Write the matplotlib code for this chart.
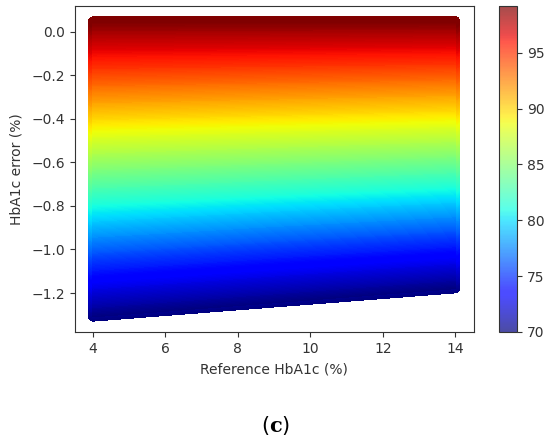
import numpy as np
import matplotlib
matplotlib.use("Agg")
import matplotlib.pyplot as plt

# reference HbA1c (%) columns and SpO2-like colour levels
ref_hba1c = [4, 9, 14]
levels = [70, 75, 80, 85, 90, 95, 99.2]

# HbA1c error (%), one row per colour level
err_at_4 = [-1.31, -1.06, -0.845, -0.62, -0.395, -0.165, 0.05]
err_at_9 = [-1.245, -1.005, -0.80, -0.59, -0.375, -0.155, 0.05]
err_at_14 = [-1.18, -0.955, -0.76, -0.56, -0.355, -0.145, 0.05]

ink = "#333333"
plt.rcParams["font.family"] = "DejaVu Sans"
plt.rcParams["font.size"] = 10
plt.rcParams["mathtext.fontset"] = "dejavuserif"
plt.rcParams["text.color"] = ink
plt.rcParams["axes.labelcolor"] = ink
plt.rcParams["xtick.color"] = ink
plt.rcParams["ytick.color"] = ink
plt.rcParams["axes.edgecolor"] = ink

X = np.array([ref_hba1c] * len(levels), dtype=float)
Y = np.column_stack([err_at_4, err_at_9, err_at_14])
C = np.array([levels] * len(ref_hba1c), dtype=float).T

fig = plt.figure(figsize=(5.5, 4.45), dpi=100)
ax = fig.add_axes([0.136, 0.254, 0.725, 0.733])
cax = fig.add_axes([0.907, 0.254, 0.033, 0.733])

lv = np.linspace(70, 99.2, 240)
# thick-edged copy underneath gives the rounded marker rim
rim = ax.contourf(X, Y, C, levels=lv, cmap="jet", zorder=1)
rim.set_edgecolor("face")
rim.set_linewidth(6)
rim.set_joinstyle("round")
field = ax.contourf(X, Y, C, levels=lv, cmap="jet", zorder=2)

ax.set_xlim(3.5, 14.5)
ax.set_ylim(-1.379, 0.12)
ax.set_xticks([4, 6, 8, 10, 12, 14])
ax.set_yticks([0.0, -0.2, -0.4, -0.6, -0.8, -1.0, -1.2])
ax.set_xlabel("Reference HbA1c (%)", labelpad=5)
ax.set_ylabel("HbA1c error (%)", labelpad=6)

sm = plt.cm.ScalarMappable(norm=plt.Normalize(70, 99.2), cmap="jet")
cb = fig.colorbar(sm, cax=cax)
cb.solids.set_alpha(0.7)
cb.set_ticks([70, 75, 80, 85, 90, 95])

fig.text(0.502, 0.043, r"($\mathbf{c}$)", ha="center", va="center", fontsize=15, color="black")

fig.savefig("out.png", dpi=100)
